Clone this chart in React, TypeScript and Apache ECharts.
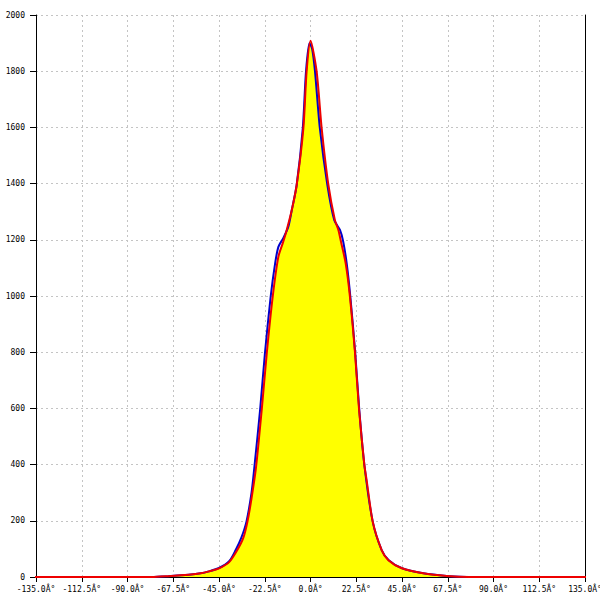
import React, { useEffect, useRef } from "react";
import * as echarts from "echarts";

const xTicks = [-135, -112.5, -90, -67.5, -45, -22.5, 0, 22.5, 45, 67.5, 90, 112.5, 135];
const yTicks = [0, 200, 400, 600, 800, 1000, 1200, 1400, 1600, 1800, 2000];

const redDeg = [-160, -78, -70, -60, -54, -50, -45, -40, -36, -33, -31, -29, -26.8, -24, -21.5, -18.6, -15.8, -13.4, -11.7, -9.2, -6.8, -3.5, -1.9, 0, 3.0, 5.5, 8.8, 12, 13.7, 15, 17.3, 19.4, 21.9, 23.9, 26.5, 27.6, 30.6, 35, 38.3, 45, 55.5, 67, 78, 160];
const redVal = [0, 0, 3, 8, 13, 20, 31, 53, 96, 140, 197, 280, 390, 594, 797, 997, 1140, 1193, 1235, 1306, 1395, 1597, 1800, 1908, 1800, 1597, 1395, 1270, 1235, 1193, 1116, 997, 797, 594, 398, 345, 197, 96, 60, 31, 13, 3.5, 0, 0];

const blueDeg = [-77, -70, -60, -54, -50, -45, -40, -36.8, -34, -31.5, -29, -27.5, -24.8, -22.4, -19.6, -17.4, -15.8, -13.4, -10.9, -9.2, -6.8, -3.8, -2.2, -0.5, 0.8, 2.2, 4.6, 8.3, 11.7, 14.5, 16.1, 17.8, 19.6, 22, 24, 26.5, 30.6, 35, 38.5, 45, 55.5, 67, 77];
const blueVal = [0, 3, 8, 13, 20, 32, 56, 96, 140, 197, 300, 398, 594, 797, 997, 1116, 1175, 1206, 1247, 1306, 1395, 1597, 1800, 1900, 1880, 1800, 1597, 1395, 1270, 1235, 1193, 1116, 997, 797, 594, 398, 197, 96, 60, 31, 13, 3.5, 0];

const FONT = "DejaVu Sans Mono";

export default function App() {
  const ref = useRef<HTMLDivElement>(null);
  useEffect(() => {
    if (!ref.current) return;
    const chart = echarts.init(ref.current, undefined, { renderer: "svg" });
    const redData = redDeg.map((d, i) => [d, redVal[i]]);
    const blueData = blueDeg.map((d, i) => [d, blueVal[i]]);
    const xMin = xTicks[0];
    const xMax = xTicks[xTicks.length - 1];
    const yMin = yTicks[0];
    const yMax = yTicks[yTicks.length - 1];
    const SM = 0.25;
    chart.setOption({
      animation: false,
      backgroundColor: "#ffffff",
      grid: { left: 36, right: 15, top: 15, bottom: 23, containLabel: false, outerBoundsMode: "none" },
      xAxis: {
        type: "value",
        min: xMin,
        max: xMax,
        interval: 22.5,
        position: "bottom",
        axisLine: { show: true, onZero: false, lineStyle: { color: "#000", width: 1 } },
        axisTick: { show: true, length: 5, lineStyle: { color: "#000" } },
        axisLabel: {
          margin: 8,
          fontFamily: FONT,
          fontSize: 8,
          color: "#000",
          hideOverlap: false,
          formatter: (v: number) => v.toFixed(1) + "Â°",
        },
        splitLine: { show: true, lineStyle: { color: "#c4c4c4", type: [2, 3] } },
      },
      yAxis: [
        {
          type: "value",
          min: yMin,
          max: yMax,
          interval: 200,
          position: "left",
          axisLine: { show: true, onZero: false, lineStyle: { color: "#000", width: 1 } },
          axisTick: { show: true, length: 6, lineStyle: { color: "#000" } },
          axisLabel: {
            margin: 11,
            fontFamily: FONT,
            fontSize: 8,
            color: "#000",
            formatter: (v: number) => String(v),
          },
          splitLine: { show: true, lineStyle: { color: "#c4c4c4", type: [2, 3] } },
        },
        {
          type: "value",
          min: yMin,
          max: yMax,
          interval: 200,
          position: "right",
          axisLine: { show: true, onZero: false, lineStyle: { color: "#000", width: 1 } },
          axisTick: { show: false },
          axisLabel: { show: false },
          splitLine: { show: false },
        },
      ],
      series: [
        {
          type: "line",
          data: redData,
          smooth: SM,
          showSymbol: false,
          lineStyle: { width: 0 },
          areaStyle: { color: "#ffff00", opacity: 1 },
          z: 1,
        },
        {
          type: "line",
          data: blueData,
          smooth: SM,
          showSymbol: false,
          lineStyle: { width: 2, color: "#0000cc" },
          z: 2,
        },
        {
          type: "line",
          data: redData,
          smooth: SM,
          showSymbol: false,
          clip: false,
          lineStyle: { width: 2, color: "#ee0000" },
          z: 3,
        },
      ],
    });
    return () => chart.dispose();
  }, []);
  return (
    <div
      ref={ref}
      style={{ position: "fixed", left: 0, top: 0, width: 600, height: 600, background: "#fff" }}
    />
  );
}
